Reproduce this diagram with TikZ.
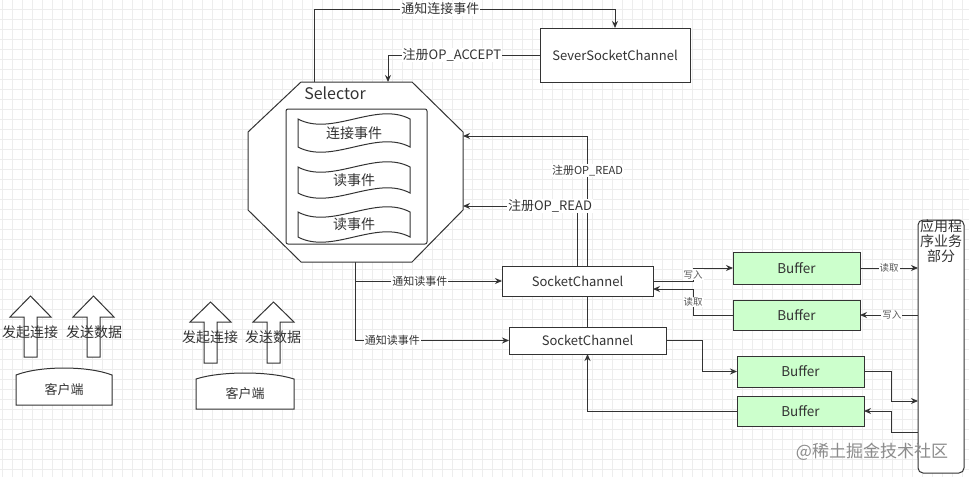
\documentclass[tikz,border=0pt]{standalone}
\usepackage{fontspec}
\setmainfont{Noto Sans CJK SC}
\usetikzlibrary{arrows.meta,calc}
\pgfdeclarelayer{gridlayer}
\pgfdeclarelayer{edgelayer}
\pgfsetlayers{gridlayer,edgelayer,main}
\definecolor{bufgreen}{HTML}{CCFFCC}
\definecolor{ink}{HTML}{333333}
\newcommand\myfs[1]{\fontsize{#1}{#1}\selectfont}
\newcommand\tapenode[6]{%
  \draw[line, fill=white] (#2,#3) .. controls ({#2+0.3*(#4-#2)},{#3+18}) and ({#2+0.7*(#4-#2)},{#3-18}) .. (#4,#3)
     -- (#4,#5) .. controls ({#2+0.7*(#4-#2)},{#5-18}) and ({#2+0.3*(#4-#2)},{#5+18}) .. (#2,#5) -- cycle;
  \node[font=\myfs{14}, text=ink] (#1) at ({(#2+#4)/2},{(#3+#5)/2}) {#6};}
\newcommand\blockarrow[4]{%
  \draw[line, fill=white] ({#1-6.5},#4) -- ({#1-6.5},#3) -- ({#1-20.5},#3) -- (#1,#2) -- ({#1+20.5},#3) -- ({#1+6.5},#3) -- ({#1+6.5},#4) -- cycle;}
\tikzset{
  line/.style={draw=ink, line width=1pt},
  box/.style={draw=ink, line width=1pt, fill=white, inner sep=0pt, outer sep=0pt, text=ink, font=\myfs{13}},
  bufbox/.style={box, fill=bufgreen, minimum width=127pt, font=\myfs{13.5}},
  arr/.style={draw=ink, line width=1pt, -{Stealth[length=7pt,width=6pt]}},
  lbl/.style={fill=white, inner sep=1pt, text=ink, font=\myfs{13}},
  slbl/.style={lbl, font=\myfs{11}},
  tlbl/.style={lbl, font=\myfs{9.5}, text=black!65},
  ctext/.style={text=ink, font=\myfs{14}, inner sep=0pt},
}
\begin{document}
\begin{tikzpicture}[x=1pt,y=-1pt]
\useasboundingbox (0,0) rectangle (969,477);
\begin{pgfonlayer}{gridlayer}
  \fill[white] (0,0) rectangle (969,477);
  \foreach \gx in {2,12,...,962} \draw[black!7, line width=0.6pt] (\gx,0) -- (\gx,477);
  \foreach \gy in {9,19,...,469} \draw[black!7, line width=0.6pt] (0,\gy) -- (969,\gy);
\end{pgfonlayer}

% Server socket channel
\node[box, minimum width=150pt, minimum height=54pt] (ssc) at (615,55) {SeverSocketChannel};

% Selector
\node[inner sep=0pt, outer sep=0pt, minimum width=215pt, minimum height=180pt] (sel) at (355.5,172) {};
\draw[line, fill=white] (301,82) -- (412,82) -- (463,132) -- (463,210) -- (412,262) -- (301,262) -- (248,210) -- (248,132) -- cycle;
\node[text=ink, font=\myfs{16}] (sellbl) at (335,93) {Selector};
\node[draw=ink, line width=1pt, rounded corners=2pt, minimum width=141pt, minimum height=135pt, inner sep=0pt] (queue) at (356.5,176.5) {};
\tapenode{t1}{298}{119}{410}{147}{连接事件}
\tapenode{t2}{298}{167}{410}{193}{读事件}
\tapenode{t3}{298}{212}{410}{237}{读事件}

% Socket channels
\node[box, minimum width=151pt, minimum height=30pt] (sc1) at (577.5,281) {SocketChannel};
\node[box, minimum width=157pt, minimum height=27pt] (sc2) at (587.5,340.5) {SocketChannel};

% Buffers
\node[bufbox, minimum height=32pt] (buf1) at (796.5,268) {Buffer};
\node[bufbox, minimum height=30pt] (buf2) at (796.5,315) {Buffer};
\node[bufbox, minimum height=31pt] (buf3) at (800.5,371.5) {Buffer};
\node[bufbox, minimum height=30pt] (buf4) at (800.5,411) {Buffer};

% Application
\node[box, rounded corners=5pt, minimum width=46pt, minimum height=253pt] (app) at (941,346.5) {};
\node[text=ink, font=\myfs{14}, align=center, inner sep=0pt] (apptxt) at (941,241) {应用程\\[1pt]序业务\\[1pt]部分};

\coordinate (c1) at (314,9);
\coordinate (c2) at (388,57);
\coordinate (c3) at (588,136);
\coordinate (c4) at (578,206);
\coordinate (a3) at (918,401);
\coordinate (a4) at (918,432);

\begin{pgfonlayer}{edgelayer}
  \draw[arr] (sel.north -| c1) -- (c1) -| node[lbl, pos=0.21] {通知连接事件} (ssc.north);
  \draw[arr] (ssc.west) -| node[lbl, pos=0.29] {注册OP\_ACCEPT} (sel.north -| c2);
  \draw[arr] (sc2.north) |- node[slbl, pos=0.41] {注册OP\_READ} (sel.east |- c3);
  \draw[arr] (sc1.north) |- node[lbl, pos=0.62] {注册OP\_READ} (sel.east |- c4);
  \draw[arr] (sel.south) |- node[slbl, pos=0.72] {通知读事件} (sc1.west);
  \draw[arr] (sel.south) |- node[slbl, pos=0.62] {通知读事件} (sc2.west);
  \draw[arr] (sc1.east) -- ++(40,0) |- node[tlbl, pos=0.25] {写入} (buf1.west);
  \draw[arr] (buf2.west) -- ++(-40,0) |- node[tlbl, pos=0.25] {读取} ($(sc1.east)+(0,8)$);
  \draw[arr] (buf1.east) -- node[tlbl] {读取} (buf1.east -| app.west);
  \draw[arr] (app.west |- buf2.east) -- node[tlbl, pos=0.45] {写入} (buf2.east);
  \draw[arr] (sc2.east) -- ++(36,0) |- (buf3.west);
  \draw[arr] (buf3.east) -- ++(27,0) |- (app.west |- a3);
  \draw[arr] (app.west |- a4) -- ++(-27,0) |- (buf4.east);
  \draw[arr] (buf4.west) -| (sc2.south);
\end{pgfonlayer}

% Clients
\draw[line, fill=white] (16,405) -- (16,375) .. controls (40,365.7) and (88,365.7) .. (112,375) -- (112,405) -- cycle;
\node[ctext, font=\myfs{13}] (cl1) at (64,390) {客户端};
\draw[line, fill=white] (196,409) -- (196,379) .. controls (220.5,371) and (269.5,371) .. (294,379) -- (294,409) -- cycle;
\node[ctext, font=\myfs{13}] (cl2) at (245,394) {客户端};

\blockarrow{30.5}{296}{317}{357}
\blockarrow{93.5}{296}{317}{357}
\blockarrow{210.5}{302}{322}{363}
\blockarrow{273.5}{302}{322}{363}
\node[ctext] (u1) at (30,332) {发起连接};
\node[ctext] (u2) at (94,332) {发送数据};
\node[ctext] (u3) at (210,337) {发起连接};
\node[ctext] (u4) at (273,337) {发送数据};

% watermark
\node[text=black!45, font=\myfs{17}, inner sep=0pt] (wm) at (872,452) {@稀土掘金技术社区};
\end{tikzpicture}
\end{document}
